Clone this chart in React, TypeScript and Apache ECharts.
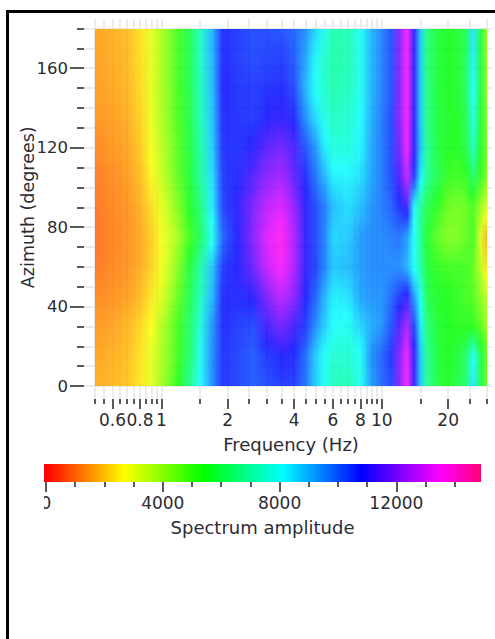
import React, { useEffect, useRef } from "react";
import * as echarts from "echarts";

const frequencies = [0.5, 0.6, 0.7, 0.8, 0.9, 1, 1.1, 1.2, 1.35, 1.5, 1.7, 1.9, 2.2, 2.6, 3, 3.5, 4, 4.5, 5, 5.5, 6, 7, 8, 9, 10, 11, 12, 13, 14, 15, 16, 18, 20, 22, 24, 26, 28, 30];
const azimuths = [0, 15, 30, 45, 60, 75, 90, 105, 120, 135, 150, 165, 180];
const az0 = [1700, 1850, 2000, 2400, 3000, 3800, 4500, 5400, 6800, 8100, 9500, 10600, 10400, 10100, 10300, 10500, 10500, 9800, 8700, 7900, 7300, 7200, 7900, 9300, 9900, 10300, 12000, 13400, 11000, 8700, 6800, 5800, 5500, 5900, 6300, 8400, 6000, 4700];
const az15 = [1600, 1750, 1900, 2350, 3000, 3700, 4300, 5100, 6400, 7900, 9500, 10600, 10400, 10100, 10500, 10800, 10700, 9900, 8700, 8000, 7600, 7500, 8000, 9500, 10000, 10600, 12000, 13300, 11000, 8700, 6800, 5700, 5400, 5700, 6200, 8000, 6000, 4700];
const az30 = [1450, 1600, 1800, 2200, 2700, 3600, 4300, 5050, 6300, 7700, 9400, 10700, 10500, 10300, 11200, 11800, 11200, 10500, 9500, 8700, 8100, 7900, 8600, 9100, 9400, 10200, 11400, 12500, 10400, 8300, 6500, 5600, 5400, 5300, 5300, 5200, 4700, 3900];
const az45 = [1250, 1400, 1550, 1900, 2400, 3100, 3800, 4700, 6000, 7300, 9000, 10700, 10700, 10900, 11900, 12700, 12100, 10800, 10000, 9000, 8300, 8400, 9200, 9400, 9400, 9900, 10500, 11000, 9300, 8000, 6000, 5500, 5400, 5200, 5000, 4800, 4100, 3500];
const az60 = [1050, 1250, 1400, 1700, 2150, 2850, 3500, 4300, 5800, 7000, 8800, 10500, 10800, 11700, 12800, 13500, 12500, 11000, 10400, 9600, 8800, 8900, 9300, 9500, 9500, 9500, 9500, 9000, 8000, 7000, 5800, 5200, 5000, 5000, 5000, 4600, 3500, 2400];
const az75 = [1000, 1200, 1350, 1650, 2100, 2800, 3300, 3900, 5000, 6200, 7900, 10000, 10800, 12000, 13100, 13700, 12500, 11000, 10300, 9600, 8600, 8700, 9300, 9500, 9500, 9700, 9800, 9300, 8000, 6800, 5600, 4600, 4200, 4300, 4600, 4900, 3200, 1700];
const az90 = [1050, 1250, 1400, 1750, 2300, 3000, 3600, 4300, 5500, 6500, 8300, 10400, 10900, 11900, 12700, 13100, 12200, 10900, 10300, 9700, 8900, 8500, 8900, 9400, 9700, 10000, 10600, 11200, 8200, 6800, 6000, 5200, 4500, 4400, 4500, 4900, 3900, 3200];
const az105 = [1100, 1300, 1500, 1900, 2600, 3400, 4000, 4700, 5700, 6900, 8500, 10500, 10700, 11400, 12100, 12400, 11600, 10700, 9800, 9000, 8300, 8200, 8500, 9200, 9700, 10300, 11300, 12800, 10500, 8300, 6800, 5900, 5100, 5000, 5200, 6300, 5100, 4200];
const az120 = [1250, 1450, 1600, 2050, 2800, 3500, 4100, 4800, 5800, 7000, 8700, 10600, 10600, 10900, 11500, 11800, 11300, 10200, 9400, 8300, 7700, 7700, 8200, 9200, 9700, 10300, 11800, 13300, 11000, 8800, 6800, 5800, 5400, 5400, 5800, 7300, 5600, 4300];
const az135 = [1400, 1550, 1700, 2150, 2900, 3650, 4250, 4950, 5900, 7200, 8800, 10700, 10600, 10500, 10800, 11000, 10700, 9500, 8500, 7800, 7400, 7500, 8100, 9100, 9700, 10300, 12000, 13400, 11000, 8700, 6600, 5800, 5500, 5500, 5900, 7800, 5700, 4200];
const az150 = [1500, 1650, 1800, 2250, 3000, 3700, 4300, 5000, 6000, 7300, 8900, 10800, 10600, 10500, 10600, 10700, 10300, 9000, 8000, 7500, 7100, 7300, 7900, 9000, 9600, 10200, 12000, 13400, 11000, 8700, 6600, 5700, 5400, 5600, 6100, 8100, 5800, 4100];
const az165 = [1550, 1700, 1850, 2300, 3000, 3700, 4300, 5000, 6000, 7400, 9000, 10700, 10500, 10300, 10400, 10500, 10100, 9200, 8200, 7500, 7100, 7200, 7900, 9000, 9600, 10200, 12000, 13400, 11000, 8700, 6500, 5700, 5400, 5600, 6100, 8300, 5800, 4100];
const az180 = [1600, 1750, 1900, 2350, 3000, 3700, 4300, 5000, 6000, 7400, 9000, 10700, 10500, 10300, 10300, 10200, 10000, 9500, 8600, 7900, 7200, 7200, 8000, 9000, 9600, 10200, 12000, 13400, 11000, 8700, 6500, 5700, 5400, 5600, 6100, 8400, 5800, 4000];
const amplitude = [az0, az15, az30, az45, az60, az75, az90, az105, az120, az135, az150, az165, az180];

const paletteValues = [0, 2700, 5400, 8100, 10800, 13500, 14898];
const paletteColors = [[255, 0, 0], [255, 255, 0], [0, 255, 0], [0, 255, 255], [0, 0, 255], [255, 0, 255], [255, 0, 123]];

const azimuthMajor = [0, 40, 80, 120, 160];
const azimuthMinor = [10, 20, 30, 50, 60, 70, 90, 100, 110, 130, 140, 150, 170, 180];
const freqMajor = [0.6, 0.8, 1, 2, 4, 6, 8, 10, 20];
const freqMinor = [0.5, 0.55, 0.65, 0.7, 0.75, 0.85, 0.9, 0.95, 1.5, 2.5, 3, 3.5, 4.5, 5, 5.5, 6.5, 7, 7.5, 8.5, 9, 9.5, 15, 25, 30];
const ampMajor = [0, 4000, 8000, 12000];
const ampMinor = [1000, 2000, 3000, 5000, 6000, 7000, 9000, 10000, 11000, 13000, 14000];

const FONT = "DejaVu Sans";
const TEXT = "#2b2b33";
const GRIDLINE = "#e4e4e4";

function colorOf(v: number): string {
  let i = 0;
  while (i < paletteValues.length - 2 && v > paletteValues[i + 1]) i++;
  const t = Math.max(0, Math.min(1, (v - paletteValues[i]) / (paletteValues[i + 1] - paletteValues[i])));
  const a = paletteColors[i], b = paletteColors[i + 1];
  return `rgb(${a.map((c, k) => Math.round(c + (b[k] - c) * t)).join(",")})`;
}

function surfaceItem(params: any, api: any) {
  const j = params.dataIndex;
  if (j >= azimuths.length - 1) return { type: "group", children: [] };
  const x0 = api.coord([frequencies[0], azimuths[j]])[0];
  const x1 = api.coord([frequencies[frequencies.length - 1], azimuths[j]])[0];
  const yA = Math.round(api.coord([frequencies[0], azimuths[j]])[1]);
  const yB = Math.round(api.coord([frequencies[0], azimuths[j + 1]])[1]);
  const children: any[] = [];
  for (let y = yB; y < yA; y += 2) {
    const h = Math.min(2, yA - y);
    const t = (yA - (y + h / 2)) / (yA - yB);
    const stops = frequencies.map((f, i) => ({
      offset: (api.coord([f, azimuths[j]])[0] - x0) / (x1 - x0),
      color: colorOf(amplitude[j][i] * (1 - t) + amplitude[j + 1][i] * t),
    }));
    children.push({
      type: "rect",
      shape: { x: x0, y, width: x1 - x0, height: h },
      style: { fill: new echarts.graphic.LinearGradient(0, 0, 1, 0, stops), opacity: 0.84 },
      silent: true,
    });
  }
  return { type: "group", children };
}

function colorbarItem(_params: any, api: any) {
  const a = api.coord([paletteValues[0] - 68, 0]);
  const b = api.coord([paletteValues[paletteValues.length - 1], 1]);
  const stops = paletteValues.map((v) => ({
    offset: (v + 68) / (paletteValues[paletteValues.length - 1] + 68),
    color: colorOf(v),
  }));
  return {
    type: "rect",
    shape: { x: a[0], y: b[1], width: b[0] - a[0], height: a[1] - b[1] },
    style: { fill: new echarts.graphic.LinearGradient(0, 0, 1, 0, stops) },
    silent: true,
  };
}

const hidden = { show: false, onZero: false };

export default function App() {
  const ref = useRef<HTMLDivElement>(null);
  useEffect(() => {
    const chart = echarts.init(ref.current!, undefined, { renderer: "svg" });
    const freqAxis = (extra: any) => ({
      type: "log", gridIndex: 0, min: 0.5, max: 30, logBase: 10, position: "bottom", offset: 13,
      axisLine: hidden, splitLine: hidden, minorTick: hidden, axisLabel: hidden, axisTick: hidden, ...extra,
    });
    const azAxis = (extra: any) => ({
      type: "value", gridIndex: 0, min: 0, max: 180, position: "left", offset: 11,
      axisLine: hidden, splitLine: hidden, axisLabel: hidden, axisTick: hidden, ...extra,
    });
    const ampAxis = (extra: any) => ({
      type: "value", gridIndex: 1, min: -68, max: 14898, position: "bottom", offset: 0,
      axisLine: hidden, splitLine: hidden, axisLabel: hidden, axisTick: hidden, ...extra,
    });
    chart.setOption({
      animation: false,
      backgroundColor: "#fff",
      textStyle: { fontFamily: FONT },
      grid: [
        { left: 95, top: 28.5, width: 392, height: 357.5 },
        { left: 44, top: 464, width: 437, height: 18 },
      ],
      xAxis: [
        freqAxis({
          name: "Frequency (Hz)", nameLocation: "middle", nameGap: 36,
          nameTextStyle: { fontFamily: FONT, fontSize: 18, color: TEXT },
          axisTick: { show: true, length: 10, customValues: freqMajor, lineStyle: { color: "#222", width: 1.5 } },
          axisLabel: {
            show: true, customValues: freqMajor, margin: 12, fontFamily: FONT, fontSize: 17, color: TEXT, hideOverlap: false,
            formatter: (v: number) => String(v),
          },
        }),
        freqAxis({ axisTick: { show: true, length: 5, customValues: freqMinor, lineStyle: { color: "#222", width: 1.5 } } }),
        freqAxis({ axisTick: { show: true, inside: true, length: 380, customValues: freqMajor.concat(freqMinor), lineStyle: { color: GRIDLINE, width: 1.5 } } }),
        ampAxis({
          name: "Spectrum amplitude", nameLocation: "middle", nameGap: 36,
          nameTextStyle: { fontFamily: FONT, fontSize: 18, color: TEXT },
          axisTick: { show: true, length: 10, customValues: ampMajor, lineStyle: { color: "#222", width: 1.5 } },
          axisLabel: {
            show: true, customValues: ampMajor, margin: 12, fontFamily: FONT, fontSize: 17, color: TEXT, hideOverlap: false,
            formatter: (v: number) => String(v),
          },
        }),
        ampAxis({ axisTick: { show: true, length: 5, customValues: ampMinor, lineStyle: { color: "#222", width: 1.5 } } }),
      ],
      yAxis: [
        azAxis({
          name: "Azimuth (degrees)", nameLocation: "middle", nameGap: 47, nameMoveOverlap: false,
          nameTextStyle: { fontFamily: FONT, fontSize: 17.5, color: TEXT },
          axisTick: { show: true, length: 14, customValues: azimuthMajor, lineStyle: { color: "#222", width: 1.5 } },
          axisLabel: { show: true, customValues: azimuthMajor, margin: 16, fontFamily: FONT, fontSize: 16.5, color: TEXT, hideOverlap: false },
        }),
        azAxis({ axisTick: { show: true, length: 7, customValues: azimuthMinor, lineStyle: { color: "#222", width: 1.5 } } }),
        azAxis({ axisTick: { show: true, inside: true, length: 408, customValues: azimuthMajor.concat(azimuthMinor), lineStyle: { color: GRIDLINE, width: 1.5 } } }),
        { type: "value", gridIndex: 1, min: 0, max: 1, show: false },
      ],
      series: [
        {
          type: "custom", coordinateSystem: "cartesian2d", xAxisIndex: 0, yAxisIndex: 0, clip: false,
          renderItem: surfaceItem, data: azimuths.map((a) => [frequencies[0], a]), encode: { x: 0, y: 1 }, silent: true,
        },
        {
          type: "custom", coordinateSystem: "cartesian2d", xAxisIndex: 3, yAxisIndex: 3, clip: false,
          renderItem: colorbarItem, data: [[0, 0]], encode: { x: 0, y: 1 }, silent: true,
        },
      ],
      graphic: [
        { type: "rect", z: 100, shape: { x: 6, y: 10, width: 489, height: 3 }, style: { fill: "#000" }, silent: true },
        { type: "rect", z: 100, shape: { x: 6, y: 10, width: 3, height: 629 }, style: { fill: "#000" }, silent: true },
        { type: "rect", z: 100, shape: { x: 30, y: 493, width: 14, height: 18 }, style: { fill: "#fff" }, silent: true },
      ],
    });
    return () => chart.dispose();
  }, []);
  return <div ref={ref} style={{ position: "fixed", left: 0, top: 0, width: 495, height: 639 }} />;
}
